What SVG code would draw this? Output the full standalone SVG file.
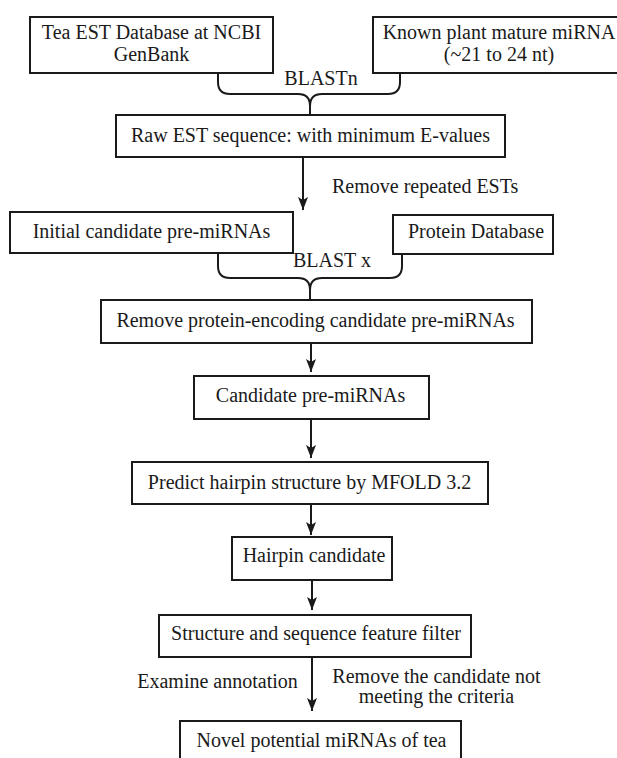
<svg xmlns="http://www.w3.org/2000/svg" width="617" height="758" viewBox="0 0 617 758">
<style>
.box{fill:#fff;stroke:#1a1a1a;stroke-width:2}
.t{font-family:"Liberation Serif","Times New Roman",serif;font-size:20px;fill:#1a1a1a;text-anchor:middle}
.tl{font-family:"Liberation Serif","Times New Roman",serif;font-size:20px;fill:#1a1a1a}
.c{fill:none;stroke:#1a1a1a;stroke-width:2}
</style>
<defs>
<marker id="ah" viewBox="0 0 13 10" refX="13" refY="5" markerWidth="13" markerHeight="10" markerUnits="userSpaceOnUse" orient="auto">
<path d="M0,0 L13,5 L0,10 L3,5 Z" fill="#1a1a1a"/>
</marker>
</defs>
<rect width="617" height="758" fill="#fff"/>
<g id="connectors">
<path class="c" d="M218,73 V82 Q218,94 230,94 H298 Q310,94 310,106 V115 M400,73 V82 Q400,94 388,94 H322 Q310,94 310,106"/>
<path class="c" d="M218,253 V266 Q218,278 230,278 H298 Q310,278 310,290 V300 M402,254 V266 Q402,278 390,278 H322 Q310,278 310,290"/>
<line class="c" x1="303" y1="157" x2="303" y2="210" marker-end="url(#ah)"/>
<line class="c" x1="311" y1="343" x2="311" y2="372" marker-end="url(#ah)"/>
<line class="c" x1="311" y1="419" x2="311" y2="458" marker-end="url(#ah)"/>
<line class="c" x1="311" y1="504" x2="311" y2="535" marker-end="url(#ah)"/>
<line class="c" x1="312" y1="580" x2="312" y2="610" marker-end="url(#ah)"/>
<line class="c" x1="312" y1="657" x2="312" y2="711" marker-end="url(#ah)"/>
<text class="t" x="321" y="85">BLASTn</text>
<text class="tl" x="332" y="193">Remove repeated ESTs</text>
<text class="t" x="332" y="267">BLAST x</text>
<text class="t" x="217.5" y="688">Examine annotation</text>
<text class="t" x="436.5" y="683">Remove the candidate not</text>
<text class="t" x="436.5" y="703">meeting the criteria</text>
</g>
<g id="tea-est">
<rect class="box" x="30" y="17" width="243" height="56"/>
<text class="t" x="151.5" y="39">Tea EST Database at NCBI</text>
<text class="t" x="151.5" y="61">GenBank</text>
</g>
<g id="known-mirna">
<rect class="box" x="373" y="17" width="252" height="56"/>
<text class="t" x="499" y="39">Known plant mature miRNA</text>
<text class="t" x="499" y="61">(~21 to 24 nt)</text>
</g>
<g id="raw-est">
<rect class="box" x="116" y="115" width="389" height="42"/>
<text class="t" x="310.5" y="142">Raw EST sequence: with minimum E-values</text>
</g>
<g id="initial-candidate">
<rect class="box" x="10" y="212" width="283" height="41"/>
<text class="t" x="151.5" y="238">Initial candidate pre-miRNAs</text>
</g>
<g id="protein-db">
<rect class="box" x="393" y="215" width="160" height="39"/>
<text class="t" x="476" y="238">Protein Database</text>
</g>
<g id="remove-protein">
<rect class="box" x="101" y="300" width="431" height="43"/>
<text class="t" x="315.5" y="327">Remove protein-encoding candidate pre-miRNAs</text>
</g>
<g id="candidate">
<rect class="box" x="194" y="376" width="235" height="43"/>
<text class="t" x="310.5" y="402">Candidate pre-miRNAs</text>
</g>
<g id="predict">
<rect class="box" x="132" y="462" width="356" height="42"/>
<text class="t" x="309.5" y="489">Predict hairpin structure by MFOLD 3.2</text>
</g>
<g id="hairpin">
<rect class="box" x="232" y="537" width="160" height="43"/>
<text class="t" x="314" y="562">Hairpin candidate</text>
</g>
<g id="filter">
<rect class="box" x="159" y="615" width="312" height="42"/>
<text class="t" x="316" y="640">Structure and sequence feature filter</text>
</g>
<g id="novel">
<rect class="box" x="180" y="721" width="281" height="50"/>
<text class="t" x="321.5" y="747">Novel potential miRNAs of tea</text>
</g>
</svg>
